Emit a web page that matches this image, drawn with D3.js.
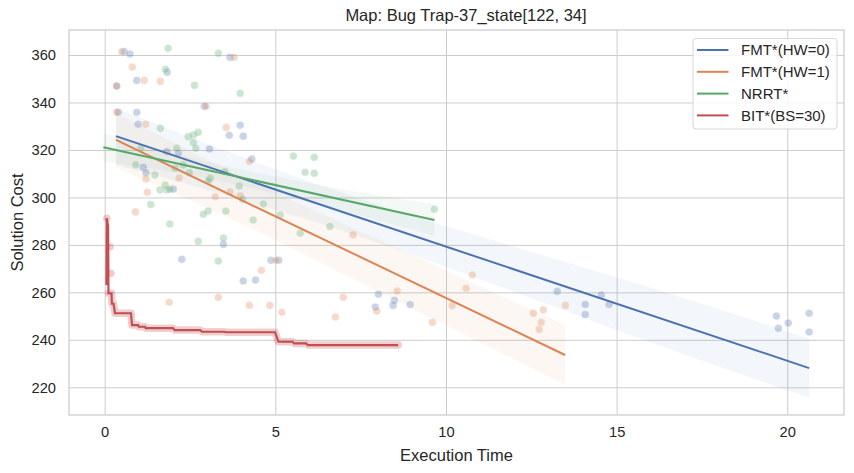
<!DOCTYPE html>
<html>
<head>
<meta charset="utf-8">
<script src="https://cdn.jsdelivr.net/npm/d3@7"></script>
<style>
    body { margin: 0; background: #fff; }
    text { font-family: "Liberation Sans", Arial, sans-serif; fill: #262626; }
</style>
</head>
<body>
<div id="chart"></div>
<script>
const xTicks = [0, 5, 10, 15, 20];
const yTicks = [220, 240, 260, 280, 300, 320, 340, 360];

const seriesNames = ['FMT*(HW=0)', 'FMT*(HW=1)', 'NRRT*', 'BIT*(BS=30)'];
const seriesColors = ['#4c72b0', '#dd8452', '#55a868', '#c44e52'];

// scatter points [time, cost]
const fmt0Points = [[0.57,361.4],[0.74,360.4],[0.94,349.3],[1.83,352.7],[0.35,346.9],[3.67,359.0],[0.40,335.9],[0.94,335.9],
    [0.98,330.8],[2.92,338.4],[3.97,330.4],[3.65,326.2],[4.06,325.8],[3.07,320.4],[4.31,316.2],[1.82,319.3],[2.16,318.7],
    [1.13,312.7],[1.21,310.4],[2.01,303.5],[3.48,280.2],[2.26,273.9],[4.87,273.5],[5.10,273.5],[4.06,264.8],[4.42,265.2],
    [8.02,259.2],[8.49,256.7],[7.93,253.8],[8.45,254.5],[8.95,254.9],[13.26,260.4],[14.08,254.9],[14.08,250.7],[14.55,258.9],
    [14.78,254.9],[19.68,250.0],[19.74,244.9],[20.03,247.1],[20.64,251.2],[20.64,243.3]];
const fmt1Points = [[0.50,361.4],[0.81,354.9],[1.16,349.3],[1.63,348.9],[0.35,346.9],[3.79,359.0],[0.35,335.9],[1.20,330.8],
    [2.97,338.4],[3.56,329.5],[4.24,315.2],[1.21,307.8],[1.25,302.2],[2.18,308.2],[3.24,300.3],[3.67,302.4],[3.97,300.7],
    [0.90,293.9],[5.02,273.5],[4.59,269.3],[1.89,255.8],[3.33,257.9],[4.24,254.5],[4.84,254.5],[5.19,251.6],[6.76,249.6],
    [6.99,257.9],[7.28,284.2],[7.97,252.1],[8.57,260.6],[9.60,247.4],[10.18,254.4],[10.59,261.7],[10.77,267.3],[12.56,251.2],
    [12.85,252.6],[12.79,247.4],[12.73,244.4],[13.50,254.5]];
const nrrtPoints = [[1.86,362.8],[3.33,360.7],[1.78,354.0],[2.63,347.2],[3.97,343.9],[1.63,329.1],[2.45,325.6],[2.60,326.3],
    [2.74,327.4],[2.60,323.1],[2.11,320.7],[2.67,320.7],[1.06,320.7],[0.91,313.7],[2.06,312.3],[2.30,313.7],[2.48,310.4],
    [3.09,308.0],[3.03,306.9],[3.52,310.9],[1.47,309.4],[1.77,305.2],[1.62,303.1],[1.82,303.1],[1.91,303.4],[3.94,304.8],
    [4.04,299.2],[1.35,297.0],[4.65,297.2],[5.53,317.4],[6.14,316.9],[5.87,310.6],[6.14,310.2],[3.55,294.3],[3.03,294.3],
    [2.89,292.9],[4.35,290.5],[5.14,292.6],[6.60,287.7],[1.91,288.8],[5.73,284.9],[2.74,281.5],[3.48,282.9],[3.33,273.2],
    [9.66,295.0]];
const bitPoints = [[0.06,291.2],[0.16,279.2],[0.18,268.0]];

// regression fits [start, end] and CI bands [time, low, high]
const fmt0Fit = [[0.33, 325.8], [20.64, 228.1]];
const fmt1Fit = [[0.33, 324.2], [13.49, 233.6]];
const nrrtFit = [[-0.04, 321.1], [9.66, 290.5]];
const fmt0Band = [[0.33,313.8,337.8],[4,299.1,317.1],[8,280.9,296.9],[12,260.2,279.2],[16,238.9,261.9],[20.64,215.6,240.6]];
const fmt1Band = [[0.33,312.7,335.7],[4,288.9,308.9],[8,260.4,282.4],[13.49,221.1,246.1]];
const nrrtBand = [[-0.04,315.1,327.1],[3,308.0,315.0],[6,298.0,306.0],[9.66,283.8,297.2]];

// BIT* best cost over time
const bitTimes = [0.05, 0.06, 0.10, 0.11, 0.20, 0.21, 0.26, 0.30, 0.77, 0.80, 0.98, 1.00, 1.18, 1.20, 2.00, 2.05,
    2.80, 2.85, 3.50, 3.55, 4.99, 5.09, 5.50, 5.55, 5.90, 5.95, 8.60];
const bitCosts = [263.1, 291.2, 288.0, 259.6, 259.6, 255.2, 255.2, 251.2, 251.2, 246.2, 246.2, 245.5, 245.5, 244.9,
    244.9, 244.1, 244.1, 243.4, 243.4, 243.2, 243.2, 239.2, 239.2, 238.5, 238.5, 237.8, 237.8];

const W = 854, H = 473;
const margin = { top: 30, right: 10, bottom: 58, left: 69 };
const width = W - margin.left - margin.right;
const height = H - margin.top - margin.bottom;

const svg = d3.select('#chart')
    .append('svg')
    .attr('width', W)
    .attr('height', H);

const g = svg.append('g')
    .attr('transform', `translate(${margin.left},${margin.top})`);

const x = d3.scaleLinear().domain([-1.046, 21.662]).range([0, width]);
const y = d3.scaleLinear().domain([208.33, 370.53]).range([height, 0]);

// grid
g.append('g')
    .attr('transform', `translate(0,${height})`)
    .call(d3.axisBottom(x).tickValues(xTicks).tickSize(-height).tickPadding(12).tickFormat(d3.format('d')))
    .call(ax => ax.select('.domain').remove())
    .call(ax => ax.selectAll('line').attr('stroke', '#cccccc').attr('stroke-width', 1))
    .call(ax => ax.selectAll('text').attr('font-size', '14.7px').attr('fill', '#262626'));

g.append('g')
    .call(d3.axisLeft(y).tickValues(yTicks).tickSize(-width).tickPadding(13).tickFormat(d3.format('d')))
    .call(ax => ax.select('.domain').remove())
    .call(ax => ax.selectAll('line').attr('stroke', '#cccccc').attr('stroke-width', 1))
    .call(ax => ax.selectAll('text').attr('font-size', '14.7px').attr('fill', '#262626'));

const plot = g.append('g');

// CI bands
const area = d3.area()
    .x(d => x(d[0]))
    .y0(d => y(d[1]))
    .y1(d => y(d[2]))
    .curve(d3.curveMonotoneX);

[fmt0Band, fmt1Band, nrrtBand].forEach((band, i) => {
    plot.append('path')
        .datum(band)
        .attr('fill', seriesColors[i])
        .attr('fill-opacity', 0.065)
        .attr('d', area);
});

// scatter
[fmt0Points, fmt1Points, nrrtPoints, bitPoints].forEach((pts, i) => {
    plot.selectAll(null)
        .data(pts)
        .enter()
        .append('circle')
        .attr('cx', d => x(d[0]))
        .attr('cy', d => y(d[1]))
        .attr('r', 3.8)
        .attr('fill', seriesColors[i])
        .attr('fill-opacity', 0.3)
        .attr('stroke', '#fff')
        .attr('stroke-opacity', 0.3)
        .attr('stroke-width', 0.6);
});

// regression lines
const line = d3.line()
    .x(d => x(d[0]))
    .y(d => y(d[1]));

[fmt0Fit, fmt1Fit, nrrtFit].forEach((fit, i) => {
    plot.append('path')
        .datum(fit)
        .attr('fill', 'none')
        .attr('stroke', seriesColors[i])
        .attr('stroke-width', 2)
        .attr('d', line);
});

// BIT* step line with halo of dense samples (skip the first jump)
const bitData = bitTimes.map((t, i) => [t, bitCosts[i]]);

plot.append('path')
    .datum(bitData.slice(3))
    .attr('fill', 'none')
    .attr('stroke', seriesColors[3])
    .attr('stroke-opacity', 0.28)
    .attr('stroke-width', 7.5)
    .attr('stroke-linejoin', 'round')
    .attr('stroke-linecap', 'round')
    .attr('d', line);

plot.append('path')
    .datum(bitData)
    .attr('fill', 'none')
    .attr('stroke', seriesColors[3])
    .attr('stroke-width', 2.2)
    .attr('d', line);

// frame
g.append('rect')
    .attr('width', width)
    .attr('height', height)
    .attr('fill', 'none')
    .attr('stroke', '#cccccc')
    .attr('stroke-width', 1.25);

// title and labels
svg.append('text')
    .attr('x', 466)
    .attr('y', 21)
    .attr('text-anchor', 'middle')
    .attr('font-size', '16.5px')
    .text('Map: Bug Trap-37_state[122, 34]');

svg.append('text')
    .attr('x', margin.left + width / 2)
    .attr('y', 461)
    .attr('text-anchor', 'middle')
    .attr('font-size', '16.5px')
    .text('Execution Time');

svg.append('text')
    .attr('transform', `translate(23,${margin.top + height / 2}) rotate(-90)`)
    .attr('text-anchor', 'middle')
    .attr('font-size', '16.5px')
    .text('Solution Cost');

// legend
const legend = svg.append('g').attr('transform', 'translate(693,38.5)');

legend.append('rect')
    .attr('width', 144)
    .attr('height', 90.5)
    .attr('rx', 3)
    .attr('fill', '#fff')
    .attr('fill-opacity', 0.8)
    .attr('stroke', '#d6d6d6')
    .attr('stroke-width', 1);

seriesNames.forEach((name, i) => {
    const ly = 11.5 + i * 21.8;
    legend.append('line')
        .attr('x1', 4)
        .attr('x2', 35.5)
        .attr('y1', ly)
        .attr('y2', ly)
        .attr('stroke', seriesColors[i])
        .attr('stroke-width', 2);
    legend.append('text')
        .attr('x', 48)
        .attr('y', ly + 5.3)
        .attr('font-size', '15px')
        .text(name);
});
</script>
</body>
</html>
